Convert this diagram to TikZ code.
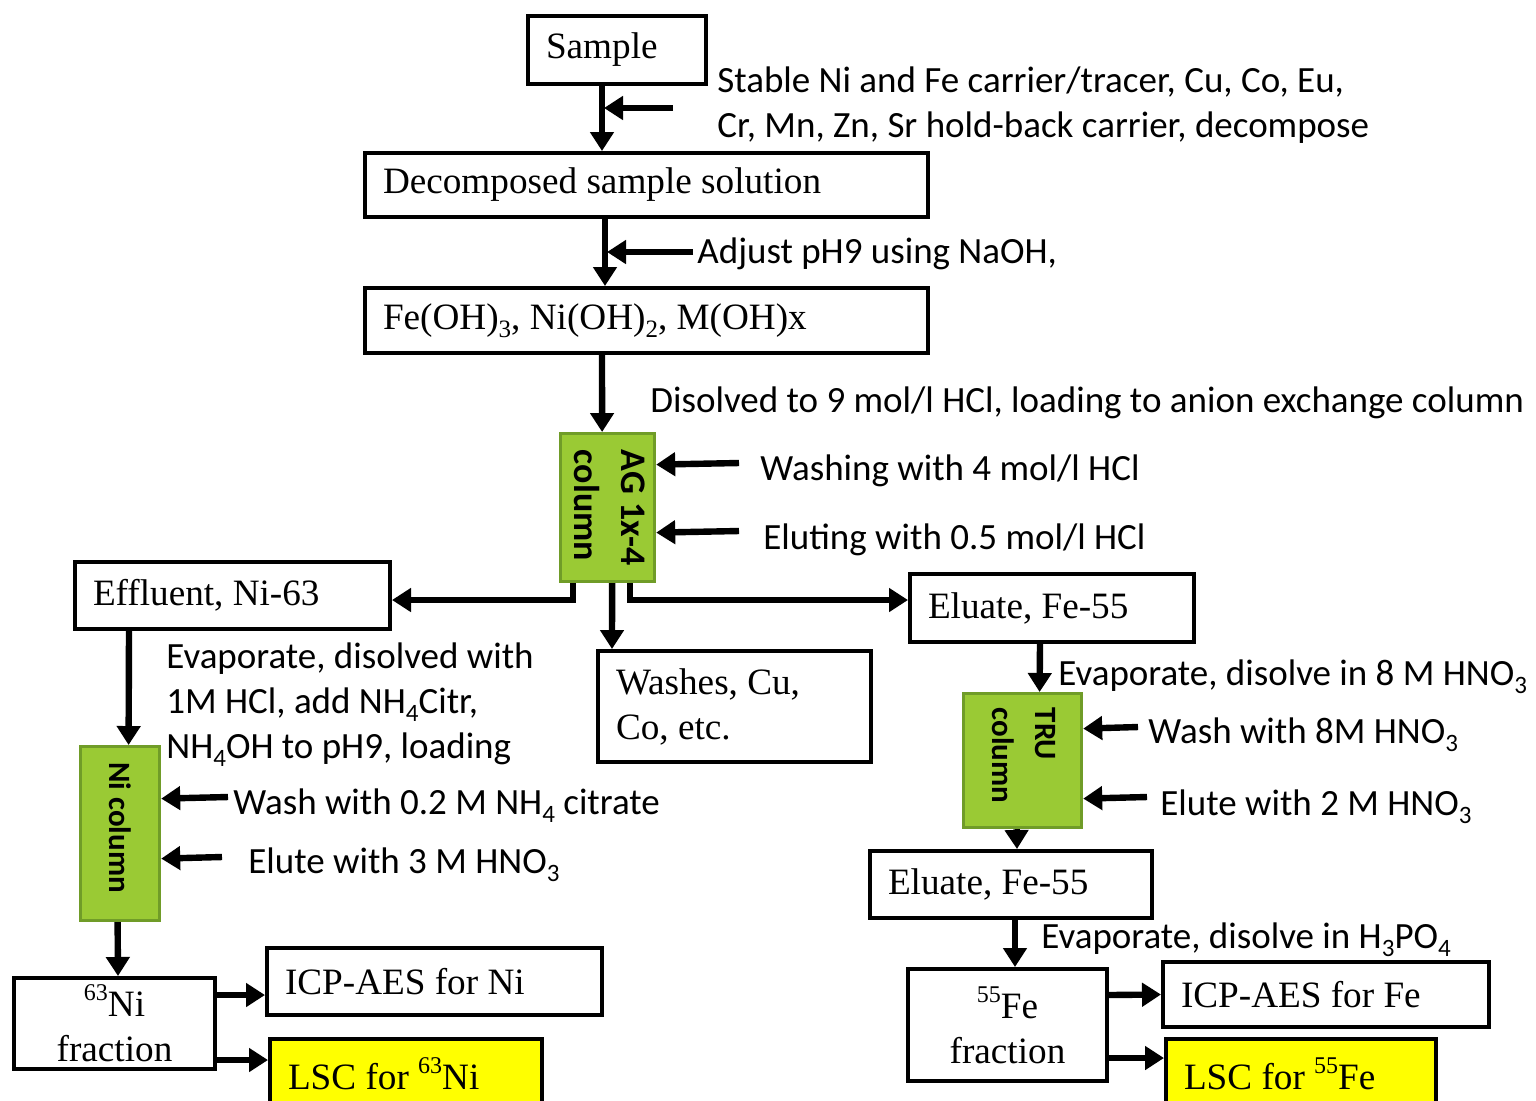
\documentclass[tikz,border=0pt]{standalone}
\usepackage{fontspec}
\setmainfont{Liberation Serif}
\newfontfamily\calib{Carlito}
\usetikzlibrary{arrows.meta}
\definecolor{colgreen}{RGB}{154,202,52}
\definecolor{colborder}{RGB}{112,156,40}
\definecolor{lscyellow}{RGB}{255,255,0}
\newcommand\serifsz{\fontsize{18.6}{22.5}\selectfont}
\newcommand\sanssz{\calib\fontsize{18.5}{22.5}\selectfont}
\newcommand\dsub[1]{\raisebox{-0.22em}{\fontsize{12.5}{12.5}\selectfont #1}}
\newcommand\usup[1]{\raisebox{0.42em}{\fontsize{12}{12}\selectfont #1}}
\begin{document}
\begin{tikzpicture}[x=0.5pt,y=-0.5pt,
  box/.style={draw, line width=2pt, anchor=north west, inner xsep=9pt, inner ysep=0pt, align=flush left, font=\serifsz},
  cbox/.style={draw, line width=2pt, anchor=north west, inner xsep=4pt, inner ysep=0pt, align=flush center, font=\serifsz},
  colbox/.style={draw=colborder, fill=colgreen, line width=1.6pt, anchor=north west, inner sep=0pt, font=\calib\bfseries},
  lbl/.style={font=\sanssz, inner sep=0pt, anchor=base west},
  mlbl/.style={font=\sanssz, inner sep=0pt, anchor=west, align=left},
  arr/.style={line width=3.2pt, -{Triangle[length=9.5pt,width=11.5pt]}}
]
\useasboundingbox (0,0) rectangle (1536,1100);

% ---- boxes ----
\node[box, minimum width=89pt, minimum height=34pt, text width=71pt] (sample) at (526,14) {Sample};
\node[box, minimum width=281.5pt, minimum height=32pt, text width=263.5pt] (decomp) at (363,151) {Decomposed sample solution};
\node[box, minimum width=281.5pt, minimum height=32.5pt, text width=263.5pt] (feoh) at (363,286) {Fe(OH)\dsub{3}, Ni(OH)\dsub{2}, M(OH)x};
\node[colbox, minimum width=46.5pt, minimum height=74pt] (ag) at (559,432)
  {\rotatebox{-90}{\fontsize{18}{23.5}\selectfont\begin{tabular}{@{}l@{}}AG 1x-4\\column\end{tabular}}};
\node[box, minimum width=157.5pt, minimum height=33.5pt, text width=139.5pt] (effl) at (73,560) {Effluent, Ni-63};
\node[box, minimum width=136.5pt, minimum height=55.5pt, text width=118.5pt] (washes) at (596,649) {Washes, Cu,\\Co, etc.};
\node[box, minimum width=142pt, minimum height=34pt, text width=124pt] (el1) at (908,572) {Eluate, Fe-55};
\node[colbox, minimum width=59pt, minimum height=67pt] (tru) at (962,692)
  {\rotatebox{-90}{\fontsize{15.5}{21.5}\selectfont\begin{tabular}{@{}l@{\hspace{5pt}}}TRU\\column\end{tabular}}};
\node[box, minimum width=141pt, minimum height=33.5pt, text width=123pt] (el2) at (868,849) {Eluate, Fe-55};
\node[cbox, minimum width=99.5pt, minimum height=56pt, text width=91.5pt] (fefrac) at (906,967) {\usup{55}Fe\\fraction};
\node[box, minimum width=163pt, minimum height=32.5pt, text width=145pt] (icpfe) at (1161,960) {ICP-AES for Fe};
\node[box, fill=lscyellow, minimum width=135pt, minimum height=35pt, text width=117pt] (lscfe) at (1164,1037) {LSC for \usup{55}Fe};
\node[colbox, minimum width=39.5pt, minimum height=87pt] (nicol) at (79,745)
  {\rotatebox{-90}{\fontsize{15.5}{20}\selectfont Ni column\hspace{6pt}}};
\node[cbox, minimum width=100.5pt, minimum height=45.5pt, text width=92.5pt] (nifrac) at (12,976) {\usup{63}Ni\\fraction};
\node[box, minimum width=167.5pt, minimum height=33.5pt, text width=149.5pt] (icpni) at (265,946) {ICP-AES for Ni};
\node[box, fill=lscyellow, minimum width=136pt, minimum height=35pt, text width=118pt] (lscni) at (268,1037) {LSC for \usup{63}Ni};

% ---- labels ----
\node[mlbl] (t1) at (717,105) {Stable Ni and Fe carrier/tracer, Cu, Co, Eu,\\Cr, Mn, Zn, Sr hold-back carrier, decompose};
\node[lbl] (t2) at (697,263) {Adjust pH9 using NaOH,};
\node[lbl] (t3) at (650,412) {Disolved to 9 mol/l HCl, loading to anion exchange column};
\node[lbl] (t4) at (760,480) {Washing with 4 mol/l HCl};
\node[lbl] (t5) at (763,549) {Eluting with 0.5 mol/l HCl};
\node[mlbl] (t6) at (166,705) {Evaporate, disolved with\\1M HCl, add NH\dsub{4}Citr,\\NH\dsub{4}OH to pH9, loading};
\node[lbl] (t7) at (233,814) {Wash with 0.2 M NH\dsub{4} citrate};
\node[lbl] (t8) at (248,873) {Elute with 3 M HNO\dsub{3}};
\node[lbl] (t9) at (1058,685) {Evaporate, disolve in 8 M HNO\dsub{3}};
\node[lbl] (t10) at (1148,743) {Wash with 8M HNO\dsub{3}};
\node[lbl] (t11) at (1160,815) {Elute with 2 M HNO\dsub{3}};
\node[lbl] (t12) at (1041,948) {Evaporate, disolve in H\dsub{3}PO\dsub{4}};

% ---- free ends of side arrows ----
\coordinate (s1) at (673,108); \coordinate (s1e) at (604,108);
\coordinate (s2) at (693,252); \coordinate (s2e) at (607,252);
\coordinate (s3) at (739,463);
\coordinate (s4) at (739,531);
\coordinate (s5) at (1138,727);
\coordinate (s6) at (1147,797);
\coordinate (s7) at (228,797);
\coordinate (s8) at (222,857);

% ---- main flow ----
\draw[arr] ([xshift=-7.5pt]sample.south) -- ([xshift=-22.25pt]decomp.north);
\draw[arr] ([xshift=-20.75pt]decomp.south) -- ([xshift=-20.75pt]feoh.north);
\draw[arr] ([xshift=-22.25pt]feoh.south) -- ([xshift=-2.75pt]ag.north);
\draw[arr] ([xshift=-17.25pt]ag.south) |- ([yshift=-2.25pt]effl.east);
\draw[arr] ([xshift=2.25pt]ag.south) -- ([xshift=-61.25pt]washes.north);
\draw[arr] ([xshift=11.25pt]ag.south) |- ([yshift=4pt]el1.west);
\draw[arr] ([xshift=-6pt]el1.south) -- ([xshift=8.5pt]tru.north);
\draw[arr] ([xshift=-3pt]tru.south) -- ([xshift=3pt]el2.north);
\draw[arr] ([xshift=2pt]el2.south) -- ([xshift=3.75pt]fefrac.north);
\draw[arr] ([yshift=15pt]fefrac.east) -- (icpfe.west);
\draw[arr] ([yshift=-16.5pt]fefrac.east) -- ([yshift=8pt]lscfe.west);
\draw[arr] ([xshift=-51.75pt]effl.south) -- ([xshift=4.25pt]nicol.north);
\draw[arr] ([xshift=-1.25pt]nicol.south) -- ([xshift=1.75pt]nifrac.north);
\draw[arr] ([yshift=14.25pt]nifrac.east) -- ([yshift=-6.75pt]icpni.west);
\draw[arr] ([yshift=-18.25pt]nifrac.east) -- ([yshift=7pt]lscni.west);

% ---- side inputs ----
\draw[arr] (s1) -- (s1e);
\draw[arr] (s2) -- (s2e);
\draw[arr] (s3) -- ([yshift=21.5pt]ag.east);
\draw[arr] (s4) -- ([yshift=-12.5pt]ag.east);
\draw[arr] (s5) -- ([yshift=16pt]tru.east);
\draw[arr] (s6) -- ([yshift=-19pt]tru.east);
\draw[arr] (s7) -- ([yshift=17.5pt]nicol.east);
\draw[arr] (s8) -- ([yshift=-12.5pt]nicol.east);
\end{tikzpicture}
\end{document}
